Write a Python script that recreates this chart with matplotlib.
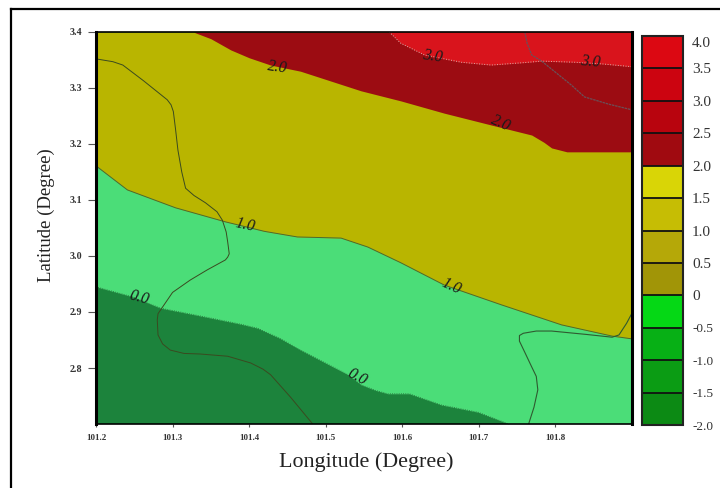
# - Librerias:

import matplotlib
matplotlib.use("Agg")
import matplotlib.pyplot as plt
from matplotlib.colors import BoundaryNorm, ListedColormap
from matplotlib.lines import Line2D
from matplotlib.transforms import ScaledTranslation

plt.rcParams['font.family'] = ['Liberation Serif', 'DejaVu Serif']

# - Isolineas (longitud, latitud):

c0_lon = [101.2, 101.248, 101.284, 101.336, 101.390, 101.411, 101.440, 101.467, 101.529, 101.546, 101.565, 101.581, 101.609, 101.651, 101.699, 101.739]
c0_lat = [2.945, 2.927, 2.907, 2.893, 2.878, 2.871, 2.853, 2.832, 2.788, 2.770, 2.760, 2.754, 2.754, 2.734, 2.721, 2.700]

c1_lon = [101.2, 101.241, 101.304, 101.369, 101.420, 101.463, 101.520, 101.555, 101.598, 101.655, 101.729, 101.808, 101.874, 101.9]
c1_lat = [3.161, 3.118, 3.086, 3.061, 3.044, 3.034, 3.032, 3.016, 2.988, 2.948, 2.913, 2.877, 2.857, 2.852]

c2_lon = [101.327, 101.350, 101.376, 101.400, 101.428, 101.467, 101.546, 101.598, 101.655, 101.716, 101.769, 101.785, 101.795, 101.815, 101.9]
c2_lat = [3.4, 3.388, 3.368, 3.354, 3.341, 3.330, 3.295, 3.277, 3.255, 3.234, 3.216, 3.203, 3.193, 3.186, 3.186]

c3_lon = [101.583, 101.598, 101.629, 101.677, 101.716, 101.756, 101.782, 101.825, 101.861, 101.9]
c3_lat = [3.4, 3.38, 3.359, 3.346, 3.341, 3.345, 3.348, 3.346, 3.343, 3.338]

# - Limites administrativos:

b1_lon = [101.2, 101.222, 101.235, 101.262, 101.293, 101.298, 101.301, 101.304, 101.307, 101.312, 101.317, 101.328, 101.343, 101.358,
          101.365, 101.370, 101.372, 101.374, 101.372, 101.369, 101.345, 101.323, 101.300, 101.287, 101.281, 101.280, 101.281,
          101.287, 101.297, 101.315, 101.336, 101.372, 101.402, 101.418, 101.428, 101.454, 101.483]
b1_lat = [3.352, 3.347, 3.341, 3.313, 3.279, 3.270, 3.258, 3.225, 3.189, 3.150, 3.121, 3.108, 3.095, 3.079,
          3.064, 3.043, 3.025, 3.004, 2.998, 2.993, 2.975, 2.957, 2.935, 2.909, 2.897, 2.886, 2.859,
          2.843, 2.832, 2.826, 2.825, 2.821, 2.809, 2.798, 2.788, 2.748, 2.700]

b2_lon = [101.765, 101.772, 101.777, 101.775, 101.769, 101.760, 101.753, 101.753, 101.758, 101.775, 101.795, 101.840, 101.874, 101.883, 101.893, 101.9]
b2_lat = [2.7, 2.730, 2.761, 2.785, 2.802, 2.828, 2.848, 2.858, 2.862, 2.866, 2.866, 2.860, 2.855, 2.859, 2.880, 2.898]

b3_lon = [101.760, 101.763, 101.769, 101.782, 101.821, 101.838, 101.870, 101.9]
b3_lat = [3.4, 3.380, 3.359, 3.348, 3.305, 3.284, 3.271, 3.261]

# - Escala de colores:

cbar_levels = [-2.0, -1.5, -1.0, -0.5, 0, 0.5, 1.0, 1.5, 2.0, 2.5, 3.0, 3.5, 4.0]
cbar_labels = ['-2.0', '-1.5', '-1.0', '-0.5', '0', '0.5', '1.0', '1.5', '2.0', '2.5', '3.0', '3.5', '4.0']
cbar_colors = ['#0c8a14', '#0b9c14', '#07b015', '#05d815', '#a19507', '#b5a808', '#c6bd04', '#d9d506',
               '#a00a10', '#b8040e', '#cc0410', '#dc0812']

# - Figura y ejes:

fig = plt.figure(figsize=(7.2, 4.88), dpi=100)
ax = fig.add_axes([96 / 720, 1 - 424 / 488, 536 / 720, 392 / 488])
ax.set_xlim(101.2, 101.9)
ax.set_ylim(2.7, 3.4)

# - Relleno por bandas:

ax.set_facecolor('#1c833c')
ax.fill_between(c0_lon, c0_lat, 3.4, color='#4bdd78', lw=0)
ax.fill_between([101.739, 101.9], 2.7, 3.4, color='#4bdd78', lw=0)
ax.fill_between(c1_lon, c1_lat, 3.4, color='#b9b500', lw=0)
ax.fill_between(c2_lon, c2_lat, 3.4, color='#9c0c12', lw=0)
ax.fill_between(c3_lon, c3_lat, 3.4, color='#d9141c', lw=0)

# - Lineas:

ax.plot(c0_lon, c0_lat, color='#2a6a3a', lw=0.6, ls=':')
ax.plot(c1_lon, c1_lat, color='#4a6a30', lw=0.7)
ax.plot(c3_lon, c3_lat, color='#d8b0a8', lw=0.7, ls=':')
ax.plot(b1_lon, b1_lat, color='#3a4a20', lw=0.7)
ax.plot(b2_lon, b2_lat, color='#2f5a30', lw=0.8)
ax.plot(b3_lon, b3_lat, color='#6a5058', lw=0.9, ls=(0, (2, 0.6)))

# - Etiquetas de isolineas:

label_style = dict(fontsize=11.5, style='italic', ha='center', va='center', color='#1a1a1a')
ax.text(101.437, 3.337, '2.0', rotation=-8, **label_style)
ax.text(101.729, 3.2375, '2.0', rotation=-24, **label_style)
ax.text(101.640, 3.356, '3.0', rotation=-8, **label_style)
ax.text(101.846, 3.347, '3.0', rotation=-5, **label_style)
ax.text(101.394, 3.055, '1.0', rotation=-12, **label_style)
ax.text(101.664, 2.945, '1.0', rotation=-24, **label_style)
ax.text(101.256, 2.925, '0.0', rotation=-15, **label_style)
ax.text(101.541, 2.784, '0.0', rotation=-28, **label_style)

# - Ejes y textos:

ax.set_xticks([101.2, 101.3, 101.4, 101.5, 101.6, 101.7, 101.8])
ax.set_yticks([2.8, 2.9, 3.0, 3.1, 3.2, 3.3, 3.4])
ax.tick_params(axis='x', labelsize=6.5, length=2, width=0.8, pad=5, color='#555555', labelcolor='#333333')
ax.tick_params(axis='y', labelsize=7.2, length=5.8, width=0.8, pad=4, color='#555555', labelcolor='#333333')
for lab in ax.get_xticklabels() + ax.get_yticklabels():
    lab.set_fontweight('bold')
for side, sp in ax.spines.items():
    sp.set_linewidth(2.2 if side in ('left', 'right') else 1.2)
fig.text(366 / 720, 1 - 462 / 488, 'Longitude (Degree)', fontsize=15.8, ha='center', va='center', color='#222222')
fig.text(46 / 720, 1 - 215 / 488, 'Latitude (Degree)', fontsize=13.5, rotation=90, ha='center', va='center', color='#222222')

# - Barra de color:

cax = fig.add_axes([642 / 720, 1 - 425 / 488, 41 / 720, 389 / 488])
cmap = ListedColormap(cbar_colors)
norm = BoundaryNorm(cbar_levels, cmap.N)
cb = fig.colorbar(plt.cm.ScalarMappable(norm=norm, cmap=cmap), cax=cax, spacing='uniform',
                  ticks=cbar_levels, drawedges=True)
cb.ax.set_yticklabels(cbar_labels)
cb.ax.tick_params(labelsize=11, length=0, pad=6.5, labelcolor='#333333')
cb.dividers.set_color('#111111')
cb.dividers.set_linewidth(1.3)
cb.outline.set_linewidth(1.5)
cb.outline.set_edgecolor('#222222')

# - Ajuste de etiquetas de la barra (los negativos son mas pequenos):

for lab in cb.ax.get_yticklabels():
    if lab.get_text().startswith('-'):
        lab.set_fontsize(9.5)
    if lab.get_text() == '4.0':
        lab.set_transform(lab.get_transform() + ScaledTranslation(0, -6 / 100, fig.dpi_scale_trans))

# - Marco exterior (solo arriba e izquierda):

fig.add_artist(Line2D([11 / 720, 1], [1 - 9 / 488, 1 - 9 / 488], transform=fig.transFigure, color='black', lw=1.6))
fig.add_artist(Line2D([11 / 720, 11 / 720], [1 - 9 / 488, 0], transform=fig.transFigure, color='black', lw=1.6))

# - Guardado:

fig.savefig('out.png', dpi=100)
